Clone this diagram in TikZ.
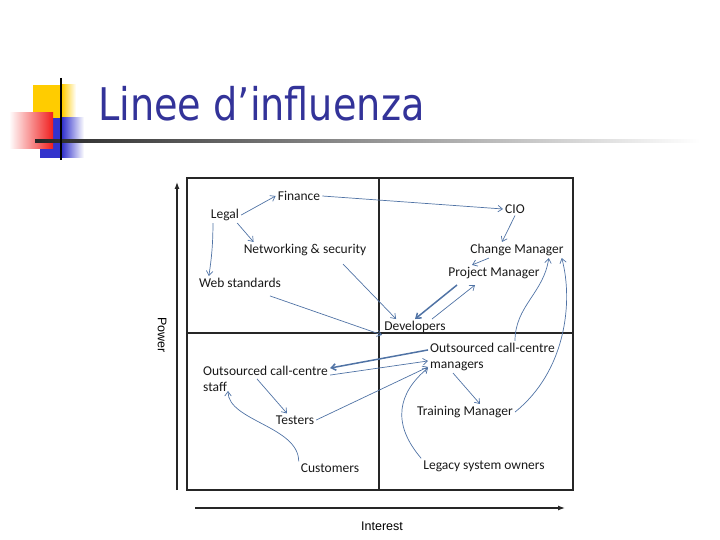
\documentclass[tikz,border=0pt]{standalone}
\usepackage{fontspec}
\setmainfont{Carlito}
\newfontfamily\titlefont[FakeStretch=0.85]{DejaVu Sans}
\newfontfamily\axisfont{Liberation Sans}
\usetikzlibrary{arrows.meta}
\definecolor{titleblue}{RGB}{51,51,153}
\definecolor{linkblue}{RGB}{80,115,165}
\definecolor{logoyellow}{RGB}{255,204,0}
\definecolor{logored}{RGB}{240,30,30}
\definecolor{logoblue}{RGB}{51,51,204}

\begin{document}
\begin{tikzpicture}[
  x=1pt, y=-1pt,
  font=\fontsize{13.5}{16}\selectfont,
  actor/.style={inner sep=2pt, text=black!90, align=left},
  link/.style={draw=linkblue, line width=0.7pt, -{Straight Barb[length=4.5pt,width=6.5pt]}},
  strong/.style={link, line width=1.5pt},
  axis/.style={line width=1.2pt, black!85, -{Latex[length=7pt,width=5pt]}}
]
\useasboundingbox (0,0) rectangle (720,540);

% logo and title rule
\fill[logoyellow] (33,85) rectangle (62,118);
\shade[left color=logoyellow, right color=white] (62,85) rectangle (76,118);
\fill[logoblue] (40,118) rectangle (62,158);
\shade[left color=logoblue, right color=white] (62,118) rectangle (84,158);
\shade[left color=white, right color=logored] (9,113) rectangle (53,149);
\shade[left color=black!85, right color=white] (35,139.5) rectangle (700,142.5);
\draw[line width=2pt] (61,78) -- (61,160);
\node[anchor=base west, inner sep=0pt, text=titleblue, font=\titlefont\fontsize{45}{54}\selectfont] (title) at (98,121) {Linee d’influenza};

% grid
\draw[line width=1.1pt, black!85] (187,178) rectangle (573,490);
\draw[line width=1.1pt, black!85] (379,178) -- (379,490);
\draw[line width=1.1pt, black!85] (187,333) -- (573,333);

\coordinate (powerfoot) at (177,490);
\coordinate (powerhead) at (177,182);
\coordinate (interestfoot) at (195,508);
\coordinate (interesthead) at (565,508);
\draw[axis] (powerfoot) -- (powerhead);
\draw[axis] (interestfoot) -- (interesthead);
\node[rotate=-90, font=\axisfont\fontsize{12.5}{14}\selectfont] (power) at (162,335) {Power};
\node[font=\axisfont\fontsize{12.5}{14}\selectfont] (interest) at (382,526) {Interest};

\node[actor] (finance) at (299,196) {Finance};
\node[actor] (legal) at (225,215) {Legal};
\node[actor] (network) at (305,250) {Networking \& security};
\node[actor] (web) at (240,283) {Web standards};
\node[actor] (dev) at (415,327) {Developers};
\node[actor] (cio) at (515,209) {CIO};
\node[actor] (change) at (517,250) {Change Manager};
\node[actor] (project) at (494,273) {Project Manager};
\node[actor, anchor=west] (staff) at (201,379) {Outsourced call-centre\\staff};
\node[actor, anchor=west] (managers) at (428,357) {Outsourced call-centre\\managers};
\node[actor] (testers) at (295,420) {Testers};
\node[actor] (customers) at (330,468) {Customers};
\node[actor] (training) at (465,412) {Training Manager};
\node[actor] (legacy) at (484,466) {Legacy system owners};

\draw[link] (legal.east) -- (finance.west);
\draw[link] ([xshift=-4pt]legal.south east) -- ([xshift=12pt]network.north west);
\draw[link] ([xshift=-12pt]legal.south) to[bend left=4] ([xshift=12pt]web.north west);
\draw[link] (finance.east) -- (cio.west);
\draw[link] (cio.south) -- ([xshift=-15pt]change.north);
\draw[link] ([xshift=-28pt]change.south) -- ([xshift=-22pt]project.north);
\draw[link] ([xshift=38pt,yshift=-6pt]network.south) -- ([xshift=14pt]dev.north west);
\draw[link] ([xshift=30pt,yshift=-6pt]web.south) -- (dev.south west);
\draw[strong] ([xshift=-37pt,yshift=-4pt]project.south) -- (dev.north);
\draw[link] ([xshift=17pt]dev.north) -- ([xshift=-19pt,yshift=-4pt]project.south);
\draw[strong] ([yshift=-9pt]managers.north west) -- ([yshift=-4pt]staff.north east);
\draw[link] ([yshift=-11pt]staff.north east) -- ([yshift=-20pt]managers.north west);
\draw[link] (testers.east) -- ([yshift=-26pt]managers.north west);
\draw[link] (legacy.north west) .. controls +(-30,-35) and +(-30,25) .. ([yshift=-27pt]managers.north west);
\draw[link] ([xshift=25pt]managers.south west) -- ([xshift=15pt]training.north);
\draw[link] (training.east) .. controls +(50,-40) and +(12,45) .. ([xshift=-4pt]change.south east);
\draw[link] ([xshift=87pt]managers.north west) .. controls +(0,-35) and +(-5,35) .. ([xshift=-17pt]change.south east);
\draw[link] ([xshift=56pt,yshift=15pt]staff.south west) -- ([xshift=-8pt]testers.north);
\draw[link] (customers.north west) .. controls +(0,-35) and +(0,30) .. ([xshift=27pt,yshift=3pt]staff.south west);
\end{tikzpicture}
\end{document}
